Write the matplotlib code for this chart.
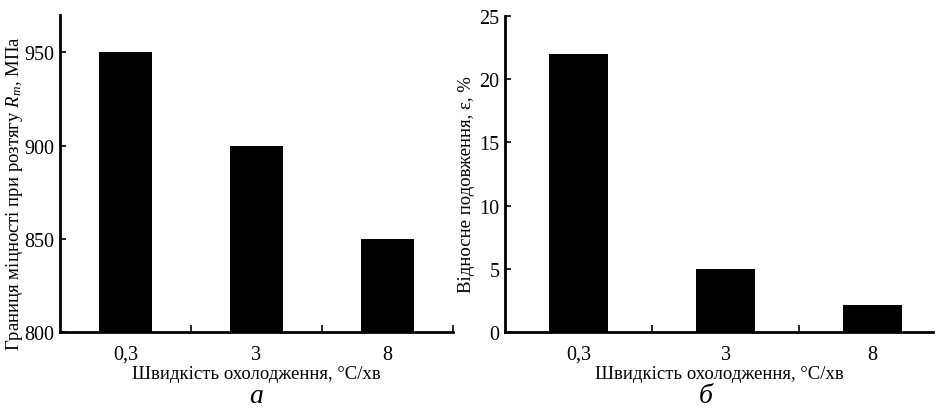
import matplotlib
matplotlib.use("Agg")
import matplotlib.pyplot as plt
from matplotlib.ticker import FixedLocator

plt.rcParams['font.family'] = ['Liberation Serif', 'DejaVu Serif']
plt.rcParams['mathtext.fontset'] = 'custom'
plt.rcParams['mathtext.rm'] = 'Liberation Serif'
plt.rcParams['mathtext.it'] = 'Liberation Serif:italic'

categories = ['0,3', '3', '8']
strength = [950, 900, 850]
elongation = [22, 5, 2.1]
left_yticks = [800, 850, 900, 950]
right_yticks = [0, 5, 10, 15, 20, 25]

xlabel = 'Швидкість охолодження, °C/хв'
ylabel_a = 'Границя міцності при розтягу $R_m$, МПа'
ylabel_b = 'Відносне подовження, ε, %'

fig = plt.figure(figsize=(9.38, 4.10), dpi=100)
ax1 = fig.add_axes([60/938, 1-333/410, (453-60)/938, (333-16)/410])
ax2 = fig.add_axes([505/938, 1-333/410, (933-505)/938, (333-17)/410])

tick_fs = 14.5
label_fs = 13.5

def style(ax, xmax):
    x = list(range(len(categories)))
    ax.set_xlim(-0.5, xmax)
    ax.set_xticks(x)
    ax.set_xticklabels(categories, fontsize=tick_fs)
    ax.tick_params(axis='x', which='major', length=0, pad=9)
    ax.xaxis.set_minor_locator(FixedLocator([0.5, 1.5, 2.5]))
    ax.tick_params(axis='x', which='minor', direction='in', length=5, width=1.2)
    ax.tick_params(axis='y', direction='in', length=4, width=1.2, labelsize=tick_fs, pad=4)
    for s in ['top', 'right']:
        ax.spines[s].set_visible(False)
    for s in ['left', 'bottom']:
        ax.spines[s].set_linewidth(2)
    ax.set_xlabel(xlabel, fontsize=label_fs, labelpad=1)

x = list(range(len(categories)))
ax1.bar(x, strength, width=0.4, color='black')
ax1.set_ylim(800, 970)
ax1.set_yticks(left_yticks)
style(ax1, 2.5)
ax1.set_ylabel(ylabel_a, fontsize=label_fs)
ax1.yaxis.set_label_coords(-0.089, 0.44)

ax2.bar(x, elongation, width=0.4, color='black')
ax2.set_ylim(0, 25)
ax2.set_yticks(right_yticks)
style(ax2, 2.41)
ax2.set_ylabel(ylabel_b, fontsize=label_fs)
ax2.yaxis.set_label_coords(-0.070, 0.47)

fig.text(256/938, 1-397/410, 'а', fontsize=20, style='italic', ha='center', va='center')
fig.text(706/938, 1-397/410, 'б', fontsize=20, style='italic', ha='center', va='center')

fig.savefig('out.png', dpi=100)
